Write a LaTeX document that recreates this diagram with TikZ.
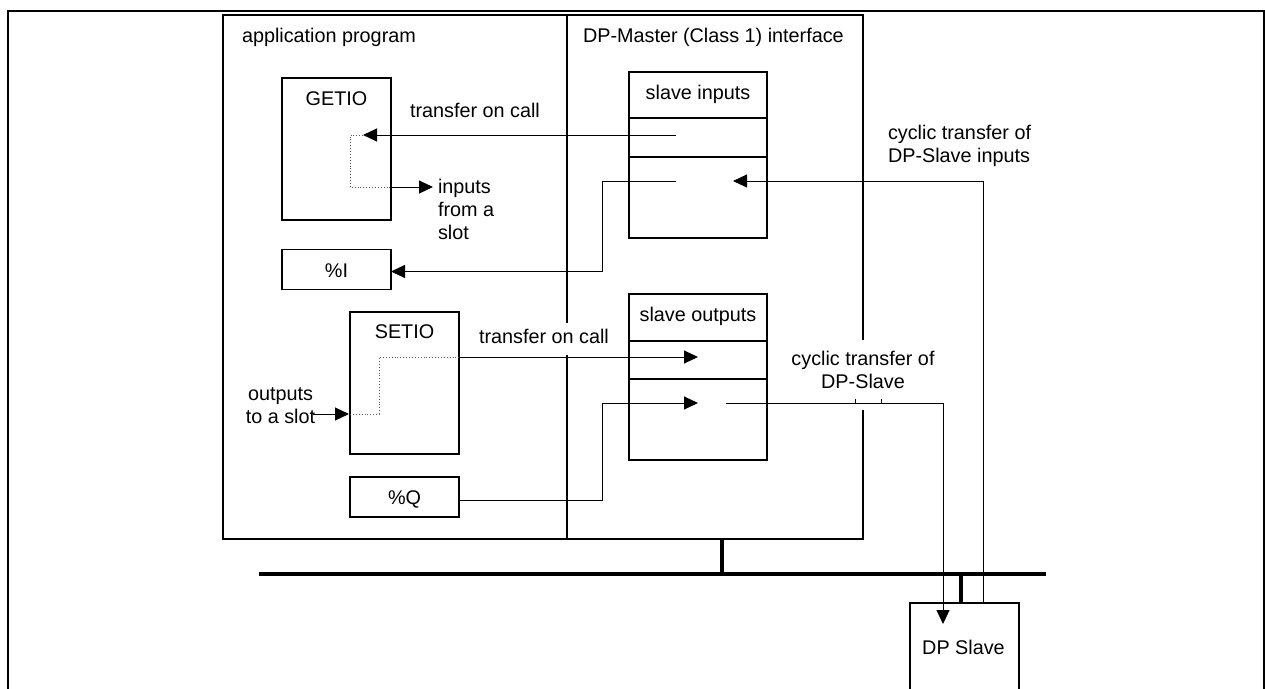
\documentclass[tikz,border=0pt]{standalone}
\usepackage{fontspec}
\setmainfont{Liberation Sans}
\usetikzlibrary{arrows.meta}
\begin{document}
\begin{tikzpicture}[x=1pt,y=-1pt,
  txt/.style={inner sep=0pt,outer sep=0pt,font=\fontsize{19.8}{23}\selectfont},
  box/.style={draw,line width=1.4pt,inner sep=0pt,outer sep=0pt},
  arr/.style={line width=1pt,-{Triangle[length=14pt,width=13pt]}},
  ln/.style={line width=1pt},
  dots/.style={line width=0.9pt,dotted,gray!70!black},
  bus/.style={line width=4pt}]
\clip (0,0) rectangle (1265,688);
\fill[white] (0,0) rectangle (1265,688);
% outer frame
\draw[line width=2pt] (8,700) -- (8,11) -- (1264,11) -- (1264,700);
% main boxes
\draw[line width=2.6pt] (863,340) -- (863,15) -- (223,15) -- (223,539) -- (863,539) -- (863,410);
\draw[line width=2pt] (567,15) -- (567,323);
\draw[line width=2pt] (567,355) -- (567,539);
\node[txt,anchor=base west] (app) at (242,42) {application program};
\node[txt,anchor=base west] (dpm) at (583,42) {DP-Master (Class 1) interface};
% GETIO
\node[box,minimum width=109pt,minimum height=142pt,anchor=north west] (getio) at (282,78) {};
\node[txt,anchor=base] (getiot) at (336.5,105) {GETIO};
\node[txt,anchor=base west] (toc1) at (410,117) {transfer on call};
\node[txt,anchor=base west,align=left] (ifs) at (438,239) {inputs\\from a\\slot};
% %I
\node[box,minimum width=109pt,minimum height=40pt,anchor=north west] (pI) at (282,249.5) {};
\node[txt,anchor=base] (pIt) at (336.5,277) {\%I};
% SETIO
\node[box,minimum width=109pt,minimum height=142pt,anchor=north west] (setio) at (350,312) {};
\node[txt,anchor=base] (setiot) at (404.5,338) {SETIO};
\node[txt,anchor=base west,fill=white,inner ysep=4pt] (toc2) at (479,343) {transfer on call};
\node[txt,anchor=base,align=center] (ots) at (280.5,423) {outputs\\to a slot};
% %Q
\node[box,minimum width=109pt,minimum height=40pt,anchor=north west] (pQ) at (350,477) {};
\node[txt,anchor=base] (pQt) at (404.5,504) {\%Q};
% slave inputs
\node[box,minimum width=138pt,minimum height=166pt,anchor=north west] (sin) at (629,72) {};
\draw[line width=1.4pt] (629,118) -- (767,118);
\draw[line width=1.4pt] (629,157) -- (767,157);
\node[txt,anchor=base] (sint) at (698,99) {slave inputs};
% slave outputs
\node[box,minimum width=138pt,minimum height=166pt,anchor=north west] (sout) at (629,294) {};
\draw[line width=1.4pt] (629,341) -- (767,341);
\draw[line width=1.4pt] (629,379) -- (767,379);
\node[txt,anchor=base] (soutt) at (698,321) {slave outputs};
% cyclic labels
\node[txt,anchor=base west,align=left] (cyc1) at (888,162) {cyclic transfer of\\DP-Slave inputs};
\node[txt,anchor=base,align=center] (cyc2) at (863,388) {cyclic transfer of\\DP-Slave};
\draw[line width=1pt] (855.5,399) -- (855.5,403);
\draw[line width=1pt] (881.5,399) -- (881.5,403);
% DP slave
\node[draw,line width=2pt,minimum width=109pt,minimum height=100pt,anchor=north west,inner sep=0pt] (dps) at (909,602) {};
\node[txt,anchor=base] (dpst) at (963.5,654) {DP Slave};
% coordinates
\coordinate (si1) at (676,135);
\coordinate (gin) at (363,135);
\coordinate (gout) at (391,187);
\coordinate (si2) at (676,181);
\coordinate (siin) at (733,181);
\coordinate (dpup) at (983,602);
\coordinate (sI) at (391,271.5);
\coordinate (slin) at (313,414);
\coordinate (sIn) at (349,414);
\coordinate (sOut) at (459,357);
\coordinate (so1) at (698,357);
\coordinate (so2) at (698,403);
\coordinate (so2s) at (726,403);
\coordinate (dpin) at (943,624);
% connectors
\draw[arr] (si1) -- (gin);
\draw[dots] (gin) -- (350,135) |- (gout);
\draw[arr] (gout) -- (433,187);
\draw[arr] (si2) -| (602,271.5) -- (sI);
\draw[arr] (dpup) |- (siin);
\draw[arr] (slin) -- (sIn);
\draw[dots] (350,414) -- (379,414) |- (sOut);
\draw[arr] (sOut) -- (so1);
\draw[arr] (pQ.east |- 0,500) -| (602,403) -- (so2);
\draw[arr] (so2s) -| (dpin);
% bus
\draw[bus] (259,574) -- (1046,574);
\draw[bus] (722,539) -- (722,574);
\draw[bus] (961,574) -- (961,602);
\end{tikzpicture}
\end{document}
